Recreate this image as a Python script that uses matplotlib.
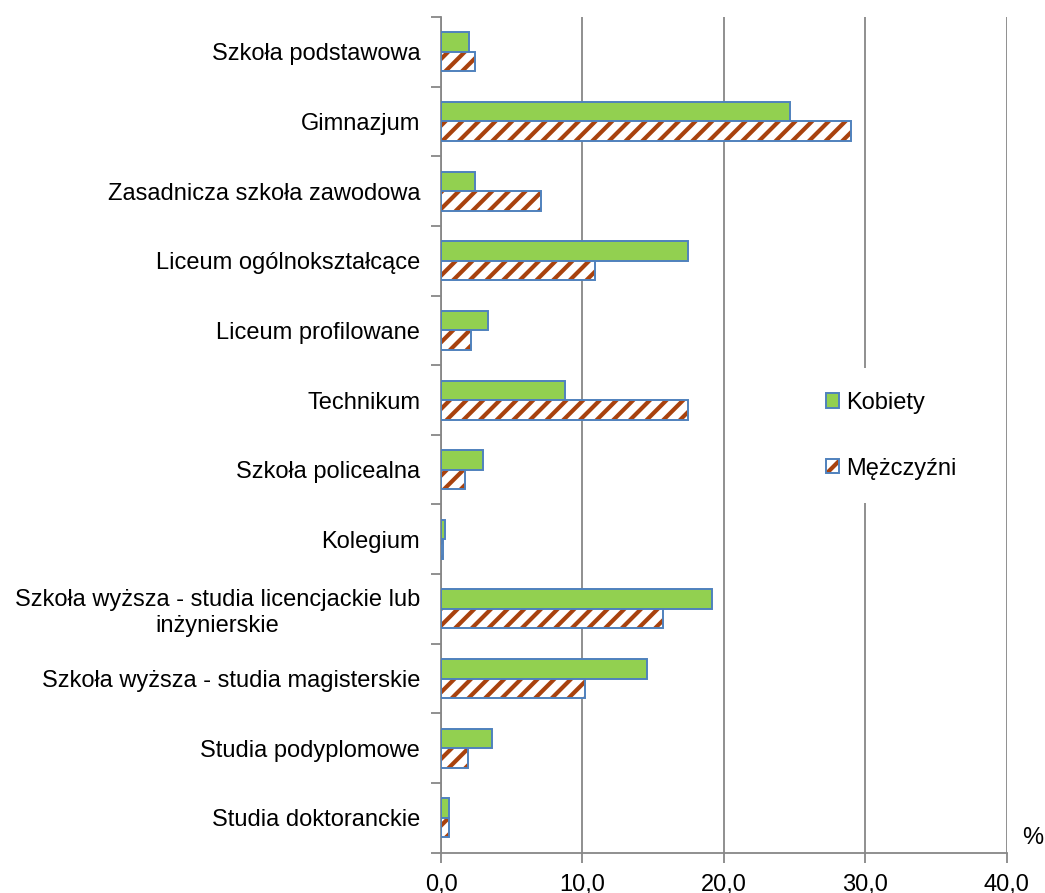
import matplotlib
matplotlib.use("Agg")
import matplotlib.pyplot as plt
from matplotlib.patches import Patch
from matplotlib.legend_handler import HandlerTuple
import numpy as np

categories = [
    "Szkoła podstawowa",
    "Gimnazjum",
    "Zasadnicza szkoła zawodowa",
    "Liceum ogólnokształcące",
    "Liceum profilowane",
    "Technikum",
    "Szkoła policealna",
    "Kolegium",
    "Szkoła wyższa - studia licencjackie lub\ninżynierskie",
    "Szkoła wyższa - studia magisterskie",
    "Studia podyplomowe",
    "Studia doktoranckie",
]
kobiety = [2.0, 24.7, 2.4, 17.5, 3.3, 8.8, 3.0, 0.3, 19.2, 14.6, 3.6, 0.6]
mezczyzni = [2.4, 29.0, 7.1, 10.9, 2.1, 17.5, 1.7, 0.15, 15.7, 10.2, 1.9, 0.6]
series_names = ["Kobiety", "Mężczyźni"]
x_ticks = [0, 10, 20, 30, 40]
x_ticklabels = ["0,0", "10,0", "20,0", "30,0", "40,0"]

plt.rcParams["font.family"] = ["Liberation Sans", "DejaVu Sans"]
plt.rcParams["hatch.linewidth"] = 3.0

GREEN = "#92D050"
BLUE = "#4F81BD"
BROWN = "#A8420E"
GRID = "#878787"
FS = 17

fig = plt.figure(figsize=(10.45, 8.93), dpi=100)
ax = fig.add_axes([441 / 1045, 1 - 852.7 / 893, (1006.5 - 441) / 1045, (852.7 - 17) / 893])

y = np.arange(len(categories))
h = 0.28
ax.barh(y - h / 2, kobiety, height=h, color=GREEN, edgecolor=BLUE, linewidth=1.4, zorder=3)
ax.barh(y + h / 2, mezczyzni, height=h, color="white", edgecolor=BROWN, hatch="//", linewidth=0, zorder=3)
ax.barh(y + h / 2, mezczyzni, height=h, fill=False, edgecolor=BLUE, linewidth=1.4, zorder=4)

ax.set_xlim(0, 40)
ax.set_ylim(len(categories) - 0.5, -0.5)

ax.set_xticks(x_ticks)
ax.set_xticklabels(x_ticklabels, fontsize=FS)
ax.tick_params(axis="x", length=7, width=1.3, color=GRID, pad=8)

ax.set_yticks(np.arange(len(categories) + 1) - 0.5)
ax.set_yticklabels([])
ax.set_yticks(y, minor=True)
ax.set_yticklabels(categories, minor=True, fontsize=FS)
ax.tick_params(axis="y", which="major", length=7, width=1.3, color=GRID)
ax.tick_params(axis="y", which="minor", length=0, pad=15)
for lab in ax.get_yticklabels(minor=True):
    lab.set_multialignment("center")

for s in ["top", "right"]:
    ax.spines[s].set_visible(False)
for s in ["left", "bottom"]:
    ax.spines[s].set_color(GRID)
    ax.spines[s].set_linewidth(1.3)

ax.xaxis.grid(True, color=GRID, linewidth=1.3, zorder=0)
ax.set_axisbelow(True)

h_k = Patch(facecolor=GREEN, edgecolor=BLUE, linewidth=1.4)
h_m_fill = Patch(facecolor="white", edgecolor=BROWN, hatch="/", linewidth=0)
h_m_edge = Patch(fill=False, edgecolor=BLUE, linewidth=1.4)
leg = ax.legend([h_k, (h_m_fill, h_m_edge)], series_names,
                handler_map={tuple: HandlerTuple(ndivide=1)},
                loc="center left", bbox_to_anchor=(0.6176, 0.499),
                fontsize=FS, frameon=True, fancybox=False,
                handlelength=0.55, handleheight=0.55, handletextpad=0.3,
                labelspacing=1.85, borderpad=1.0)
leg.get_frame().set_facecolor("white")
leg.get_frame().set_edgecolor("none")
leg.get_frame().set_alpha(1)
leg.set_zorder(5)

fig.text(1033 / 1045, 1 - 838 / 893, "%", fontsize=FS, ha="center", va="center")

fig.savefig("out.png", dpi=100)
